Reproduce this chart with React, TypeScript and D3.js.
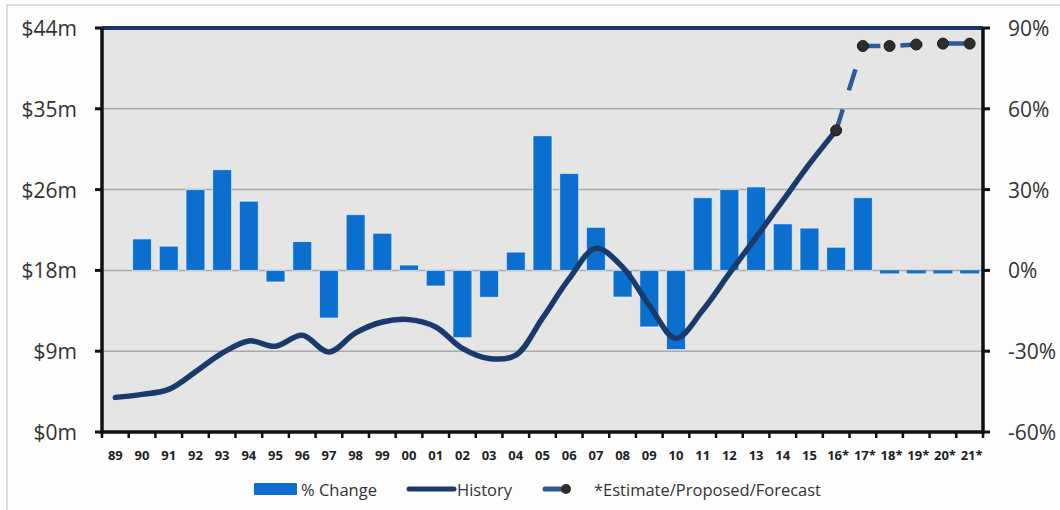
import React from "react";
import * as d3 from "d3";

// Fiscal years on the category axis (starred years are estimates / forecasts)
const years = [
  "89", "90", "91", "92", "93", "94", "95", "96", "97", "98", "99",
  "00", "01", "02", "03", "04", "05", "06", "07", "08", "09", "10",
  "11", "12", "13", "14", "15", "16*", "17*", "18*", "19*", "20*", "21*",
];

// Year-over-year % change (right axis); first year has no prior value
const pctChange: (number | null)[] = [
  null, 11.7, 9, 30, 37.4, 25.7, -4.3, 10.7, -17.7, 20.7, 13.8,
  2, -5.8, -25, -10, 6.8, 50, 36, 16, -9.9, -21, -29.4,
  27, 30, 31, 17.3, 15.7, 8.6, 27, 0, 0, 0, 0,
];

// Historical totals in $ millions (left axis), 89 through 16*
const historyYears = years.slice(0, 28);
const historyValues = [
  3.77, 4.1, 4.64, 6.55, 8.58, 9.92, 9.34, 10.54, 8.72, 10.79, 11.98,
  12.24, 11.44, 9.1, 8.0, 8.37, 12.4, 16.7, 20.0, 17.96, 13.8, 10.2,
  13.25, 17.27, 21.2, 25.2, 29.2, 32.85,
];

// Estimate / proposed / forecast totals in $ millions, 16* through 21*
const forecastYears = years.slice(27);
const forecastValues = [32.85, 42.04, 42.04, 42.2, 42.3, 42.3];

// Axis ticks
const leftTicks = [0, 8.8, 17.6, 26.4, 35.2, 44];
const rightTicks = [-60, -30, 0, 30, 60, 90];

const legendItems = ["% Change", "History", "*Estimate/Proposed/Forecast"];

const W = 1060;
const H = 510;
const PLOT = { left: 102, right: 983, top: 28, bottom: 432 };

const BAR = "#0a6fcf";
const NAVY = "#183a6d";
const FORECAST = "#2a5a98";
const MARKER = "#2e2e2e";
const TEXT = "#333333";
const FONT = "'Open Sans', 'Noto Sans', sans-serif";

export default function App() {
  const x = d3
    .scaleBand<string>()
    .domain(years)
    .range([PLOT.left, PLOT.right])
    .paddingInner(0.29)
    .paddingOuter(0.145);
  const step = x.step();
  const cx = (k: string) => (x(k) as number) + x.bandwidth() / 2;

  const yL = d3.scaleLinear().domain([0, 44]).range([PLOT.bottom, PLOT.top]);
  const yR = d3.scaleLinear().domain([-60, 90]).range([PLOT.bottom, PLOT.top]);

  const historyLine = d3
    .line<number>()
    .x((_, i) => cx(historyYears[i]))
    .y((d) => yL(d))
    .curve(d3.curveCatmullRom.alpha(0.5));

  const forecastLine = d3
    .line<number>()
    .x((_, i) => cx(forecastYears[i]))
    .y((d) => yL(d));

  const bandEdges = d3.range(years.length + 1).map((i) => PLOT.left + i * step);

  const legendY = 489;

  return (
    <svg
      width={W}
      height={H}
      viewBox={`0 0 ${W} ${H}`}
      style={{ position: "absolute", left: 0, top: 0, background: "#fdfdfd" }}
    >
      {/* outer chart frame */}
      <rect x={7} y={5} width={1200} height={700} fill="#fdfdfd" stroke="#cfcfcf" strokeWidth={1.5} />

      {/* plot area */}
      <rect
        x={PLOT.left}
        y={PLOT.top}
        width={PLOT.right - PLOT.left}
        height={PLOT.bottom - PLOT.top}
        fill="#e5e5e5"
      />

      {/* horizontal gridlines */}
      {leftTicks.slice(1, -1).map((t) => (
        <line
          key={`g${t}`}
          x1={PLOT.left}
          x2={PLOT.right}
          y1={yL(t)}
          y2={yL(t)}
          stroke="#a9a9a9"
          strokeWidth={1.5}
        />
      ))}

      {/* % change bars */}
      {years.map((yr, i) => {
        const v = pctChange[i];
        if (v === null) return null;
        const y0 = yR(0);
        const yv = yR(v);
        const top = v === 0 ? y0 : Math.min(y0, yv);
        const h = v === 0 ? 3 : Math.abs(y0 - yv);
        return (
          <rect
            key={`b${yr}`}
            x={x(yr)}
            y={top}
            width={x.bandwidth()}
            height={h}
            fill={BAR}
            stroke="rgba(255,255,255,0.65)"
            strokeWidth={v === 0 ? 0 : 1}
          />
        );
      })}

      {/* history line */}
      <path
        d={historyLine(historyValues) || ""}
        fill="none"
        stroke={NAVY}
        strokeWidth={5.5}
        strokeLinecap="round"
        strokeLinejoin="round"
      />

      {/* forecast line with markers */}
      <path
        d={forecastLine(forecastValues) || ""}
        fill="none"
        stroke={FORECAST}
        strokeWidth={4.5}
        strokeDasharray="22,20"
      />
      {forecastValues.map((v, i) => (
        <circle
          key={`m${i}`}
          cx={cx(forecastYears[i])}
          cy={yL(v)}
          r={5.5}
          fill={MARKER}
          stroke="#1c1c1c"
          strokeWidth={1}
        />
      ))}

      {/* top border */}
      <line x1={PLOT.left} x2={PLOT.right} y1={PLOT.top} y2={PLOT.top} stroke="#1a355f" strokeWidth={4} />

      {/* axes */}
      <line x1={PLOT.left} x2={PLOT.left} y1={PLOT.top} y2={PLOT.bottom + 2} stroke="#111" strokeWidth={3.5} />
      <line x1={PLOT.right} x2={PLOT.right} y1={PLOT.top} y2={PLOT.bottom + 2} stroke="#111" strokeWidth={3.5} />
      <line x1={PLOT.left} x2={PLOT.right} y1={PLOT.bottom} y2={PLOT.bottom} stroke="#111" strokeWidth={3.5} />

      {leftTicks.map((t) => (
        <g key={`lt${t}`}>
          <line x1={PLOT.left - 7} x2={PLOT.left} y1={yL(t)} y2={yL(t)} stroke="#111" strokeWidth={3} />
          <text
            x={77}
            y={yL(t)}
            textAnchor="end"
            dominantBaseline="central"
            fontFamily={FONT}
            fontSize={21}
            fill={TEXT}
          >
            {`$${Math.round(t)}m`}
          </text>
        </g>
      ))}

      {rightTicks.map((t) => (
        <g key={`rt${t}`}>
          <line x1={PLOT.right} x2={PLOT.right + 7} y1={yR(t)} y2={yR(t)} stroke="#111" strokeWidth={3} />
          <text
            x={1008}
            y={yR(t)}
            textAnchor="start"
            dominantBaseline="central"
            fontFamily={FONT}
            fontSize={21}
            fill={TEXT}
          >
            {`${t}%`}
          </text>
        </g>
      ))}

      {bandEdges.map((bx, i) => (
        <line key={`bt${i}`} x1={bx} x2={bx} y1={PLOT.bottom} y2={PLOT.bottom + 6} stroke="#111" strokeWidth={2.5} />
      ))}

      {years.map((yr) => (
        <text
          key={`xl${yr}`}
          x={cx(yr) + (yr.endsWith("*") ? 2 : 0)}
          y={455}
          textAnchor="middle"
          dominantBaseline="central"
          fontFamily={FONT}
          fontWeight="bold"
          fontSize={13}
          fill="#1e1e1e"
        >
          {yr}
        </text>
      ))}

      {/* legend */}
      <rect x={254} y={legendY - 6} width={43} height={12} fill={BAR} rx={1} />
      <text x={301} y={legendY} dominantBaseline="central" fontFamily={FONT} fontSize={16.5} fill={TEXT}>
        {legendItems[0]}
      </text>
      <line x1={409} x2={454} y1={legendY} y2={legendY} stroke={NAVY} strokeWidth={5} strokeLinecap="round" />
      <text x={457} y={legendY} dominantBaseline="central" fontFamily={FONT} fontSize={16.5} fill={TEXT}>
        {legendItems[1]}
      </text>
      <line x1={545} x2={565} y1={legendY} y2={legendY} stroke={FORECAST} strokeWidth={5} strokeLinecap="round" />
      <circle cx={566} cy={legendY} r={5} fill={MARKER} />
      <text x={594} y={legendY} dominantBaseline="central" fontFamily={FONT} fontSize={16.5} fill={TEXT}>
        {legendItems[2]}
      </text>
    </svg>
  );
}
